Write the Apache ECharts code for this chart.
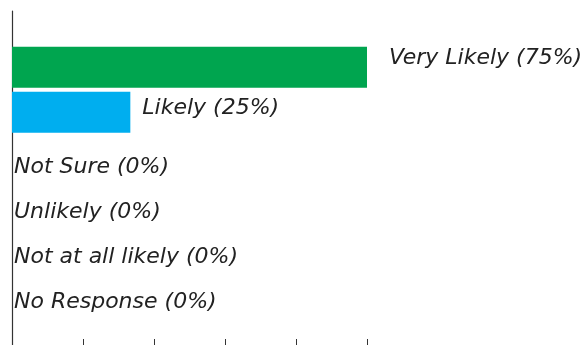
<!DOCTYPE html>
<html>
<head>
<meta charset="utf-8">
<script src="https://cdn.jsdelivr.net/npm/echarts@6/dist/echarts.min.js"></script>
<style>
  html, body { margin: 0; padding: 0; background: #fff; }
  #chart { width: 585px; height: 345px; }
</style>
</head>
<body>
<div id="chart"></div>
<script>
// Survey answers and their share of responses (%)
const categories = ['Very Likely', 'Likely', 'Not Sure', 'Unlikely', 'Not at all likely', 'No Response'];
const percents = [75, 25, 0, 0, 0, 0];
const barColors = ['#00A54F', '#00AEEF', '#7F7F7F', '#7F7F7F', '#7F7F7F', '#7F7F7F'];
const axisMax = 75;
const tickStep = 15;

const labelFont = {
  fontFamily: '"DejaVu Sans", Verdana, sans-serif',
  fontStyle: 'italic',
  fontSize: 22,
  color: '#222'
};

const barData = percents.map((v, i) => ({
  value: v,
  itemStyle: { color: barColors[i] },
  label: v > 0
    ? { distance: i === 0 ? 22 : 12, offset: [0, i === 0 ? -9 : -4] }
    : { distance: 2, offset: [0, 10] }
}));

const chart = echarts.init(document.getElementById('chart'), null, { renderer: 'canvas' });
chart.setOption({
  animation: false,
  grid: [
    { left: 12, right: 218, top: 44.8, height: 270, containLabel: false },
    { left: 12, right: 218, top: 11, bottom: -1, containLabel: false }
  ],
  xAxis: [
    { gridIndex: 0, type: 'value', min: 0, max: axisMax, show: false },
    {
      gridIndex: 1, type: 'value', min: 0, max: axisMax, interval: tickStep,
      axisLine: { show: false },
      axisTick: { show: true, inside: true, length: 6, lineStyle: { color: '#333', width: 1 } },
      axisLabel: { show: false },
      splitLine: { show: false }
    }
  ],
  yAxis: [
    {
      gridIndex: 0, type: 'category', data: categories, inverse: true,
      axisLine: { show: false }, axisTick: { show: false }, axisLabel: { show: false }
    },
    {
      gridIndex: 1, type: 'value', min: 0, max: 1,
      axisLine: { show: true, lineStyle: { color: '#333', width: 1.2 } },
      axisTick: { show: false }, axisLabel: { show: false }, splitLine: { show: false }
    }
  ],
  series: [
    {
      type: 'bar',
      xAxisIndex: 0,
      yAxisIndex: 0,
      barWidth: 41,
      data: barData,
      label: Object.assign({
        show: true,
        position: 'right',
        formatter: p => categories[p.dataIndex] + ' (' + p.value + '%)'
      }, labelFont)
    },
    { type: 'scatter', xAxisIndex: 1, yAxisIndex: 1, data: [], silent: true }
  ]
});
</script>
</body>
</html>
